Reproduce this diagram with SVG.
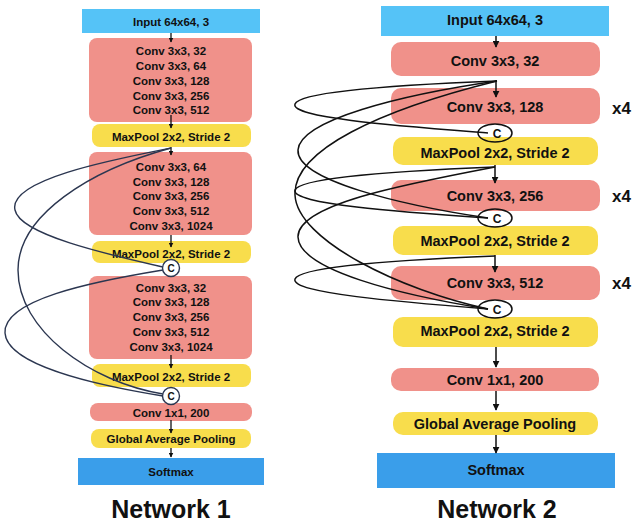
<svg xmlns="http://www.w3.org/2000/svg" width="635" height="524" viewBox="0 0 635 524">
<defs>
<marker id="ah" viewBox="0 0 10 10" refX="9" refY="5" markerWidth="5" markerHeight="5" orient="auto" markerUnits="userSpaceOnUse">
<path d="M0,0 L10,5 L0,10 z" fill="#111"/>
</marker>
<marker id="ah2" viewBox="0 0 10 10" refX="9" refY="5" markerWidth="7" markerHeight="7" orient="auto" markerUnits="userSpaceOnUse">
<path d="M0,0 L10,5 L0,10 z" fill="#111"/>
</marker>
<style>
text{font-family:"Liberation Sans",Arial,sans-serif;font-weight:bold;fill:#111;text-anchor:middle}
.s{font-size:11.5px}
.l{font-size:14.5px}
.t{font-size:25px}
.x4{font-size:17px;text-anchor:start}
.inp{fill:#55c3f7}
.sm{fill:#3a9eea}
.cv{fill:#f0918a}
.mp{fill:#f8dd4c}
.a{stroke:#111;stroke-width:1.3;fill:none;marker-end:url(#ah)}
.a2{stroke:#111;stroke-width:1.5;fill:none;marker-end:url(#ah2)}
.c1{stroke:#2b3650;stroke-width:1.4;fill:none}
.c2{stroke:#111;stroke-width:1.5;fill:none}
.cc{fill:#fff;stroke:#2b3650;stroke-width:1.4}
.ce{fill:none;stroke:#111;stroke-width:1.5}
</style>
</defs>

<!-- Network 1 -->
<g id="n1-input"><rect class="inp" x="82" y="9" width="178" height="24"/><text class="s" x="171" y="26">Input 64x64, 3</text></g>
<g id="n1-conv1"><rect class="cv" x="89" y="38" width="163" height="84" rx="8"/>
<text class="s" x="171" y="55">Conv 3x3, 32</text><text class="s" x="171" y="70">Conv 3x3, 64</text><text class="s" x="171" y="85">Conv 3x3, 128</text><text class="s" x="171" y="100">Conv 3x3, 256</text><text class="s" x="171" y="114">Conv 3x3, 512</text></g>
<g id="n1-pool1"><rect class="mp" x="92" y="124" width="159" height="23" rx="8"/><text class="s" x="171" y="141">MaxPool 2x2, Stride 2</text></g>
<g id="n1-conv2"><rect class="cv" x="89" y="152" width="163" height="83" rx="8"/>
<text class="s" x="171" y="171">Conv 3x3, 64</text><text class="s" x="171" y="186">Conv 3x3, 128</text><text class="s" x="171" y="200">Conv 3x3, 256</text><text class="s" x="171" y="215">Conv 3x3, 512</text><text class="s" x="171" y="230">Conv 3x3, 1024</text></g>
<g id="n1-pool2"><rect class="mp" x="92" y="241" width="159" height="22" rx="8"/><text class="s" x="171" y="258">MaxPool 2x2, Stride 2</text></g>
<g id="n1-conv3"><rect class="cv" x="89" y="276" width="163" height="83" rx="8"/>
<text class="s" x="171" y="292">Conv 3x3, 32</text><text class="s" x="171" y="306">Conv 3x3, 128</text><text class="s" x="171" y="321">Conv 3x3, 256</text><text class="s" x="171" y="336">Conv 3x3, 512</text><text class="s" x="171" y="351">Conv 3x3, 1024</text></g>
<g id="n1-pool3"><rect class="mp" x="92" y="364" width="159" height="23" rx="8"/><text class="s" x="171" y="381">MaxPool 2x2, Stride 2</text></g>
<g id="n1-conv1x1"><rect class="cv" x="90" y="403" width="162" height="18" rx="8"/><text class="s" x="171" y="417">Conv 1x1, 200</text></g>
<g id="n1-gap"><rect class="mp" x="91" y="429" width="160" height="19" rx="8"/><text class="s" x="171" y="443">Global Average Pooling</text></g>
<g id="n1-softmax"><rect class="sm" x="78" y="458" width="186" height="27"/><text class="s" x="171" y="476">Softmax</text></g>

<!-- Network 2 -->
<g id="n2-input"><rect class="inp" x="381" y="6" width="228" height="30"/><text class="l" x="495" y="25">Input 64x64, 3</text></g>
<g id="n2-conv32"><rect class="cv" x="391" y="42" width="209" height="34" rx="10"/><text class="l" x="495" y="66">Conv 3x3, 32</text></g>
<g id="n2-conv128"><rect class="cv" x="391" y="88" width="209" height="36" rx="10"/><text class="l" x="495" y="112">Conv 3x3, 128</text></g>
<g id="n2-pool1"><rect class="mp" x="393" y="137" width="205" height="28" rx="10"/><text class="l" x="495" y="158">MaxPool 2x2, Stride 2</text></g>
<g id="n2-conv256"><rect class="cv" x="391" y="180" width="209" height="31" rx="10"/><text class="l" x="495" y="201">Conv 3x3, 256</text></g>
<g id="n2-pool2"><rect class="mp" x="393" y="226" width="205" height="29" rx="10"/><text class="l" x="495" y="246">MaxPool 2x2, Stride 2</text></g>
<g id="n2-conv512"><rect class="cv" x="391" y="266" width="209" height="34" rx="10"/><text class="l" x="495" y="288">Conv 3x3, 512</text></g>
<g id="n2-pool3"><rect class="mp" x="393" y="317" width="205" height="30" rx="10"/><text class="l" x="495" y="336">MaxPool 2x2, Stride 2</text></g>
<g id="n2-conv1x1"><rect class="cv" x="391" y="368" width="208" height="23" rx="10"/><text class="l" x="495" y="385">Conv 1x1, 200</text></g>
<g id="n2-gap"><rect class="mp" x="393" y="412" width="205" height="23" rx="10"/><text class="l" x="495" y="429">Global Average Pooling</text></g>
<g id="n2-softmax"><rect class="sm" x="377" y="453" width="238" height="35"/><text class="l" x="496" y="475">Softmax</text></g>
<g id="n2-x4"><text class="x4" x="612" y="114">x4</text><text class="x4" x="612" y="202">x4</text><text class="x4" x="612" y="289">x4</text></g>

<!-- Connectors -->
<g id="connectors">
<path class="a" d="M171,33 V42"/>
<path class="a" d="M171,115 V128"/>
<path class="a" d="M171,147 V155"/>
<path class="a" d="M171,235 V247"/>
<path class="a" d="M171,355 V368"/>
<path class="a" d="M171,420 V433"/>
<path class="a" d="M171,448 V457"/>
<path class="c1" d="M171,148 C110,160 8,180 15,210 C20,235 110,255 163,267"/>
<path class="c1" d="M171,148 C90,170 18,215 18,270 C18,330 90,382 163,394"/>
<path class="c1" d="M163,270 C90,282 3,300 5,333 C7,365 95,385 163,396"/>

<path class="a2" d="M496,36 V47"/>
<path class="a2" d="M496,80 V97"/>
<path class="a2" d="M495,165 V183"/>
<path class="a2" d="M495,255 V272"/>
<path class="a2" d="M496,347 V367"/>
<path class="a2" d="M496,391 V410"/>
<path class="a2" d="M496,435 V453"/>
<path class="c2" d="M497,81 C420,84 300,90 295,104 C290,118 400,126 488,133"/>
<path class="c2" d="M495,167 C420,170 300,176 295,190 C290,204 400,212 488,218"/>
<path class="c2" d="M495,256 C420,259 300,265 295,279 C290,293 400,302 488,309"/>
<path class="c2" d="M497,81 C400,95 300,120 298,150 C296,180 400,205 488,218"/>
<path class="c2" d="M495,167 C400,185 297,205 298,237 C299,270 400,295 488,309"/>
<path class="c2" d="M497,81 C380,110 293,150 295,195 C297,240 400,290 488,309"/>
</g>

<g id="n1-concat1"><circle class="cc" cx="171" cy="268" r="8.5"/><text x="171" y="272" style="font-size:10px">C</text></g>
<g id="n1-concat2"><circle class="cc" cx="171" cy="396" r="8.5"/><text x="171" y="400" style="font-size:10px">C</text></g>
<g id="n2-concat1"><ellipse class="ce" cx="495" cy="133" rx="17" ry="9"/><text x="497" y="138" style="font-size:12px">C</text></g>
<g id="n2-concat2"><ellipse class="ce" cx="495" cy="218" rx="17" ry="9"/><text x="497" y="223" style="font-size:12px">C</text></g>
<g id="n2-concat3"><ellipse class="ce" cx="495" cy="309" rx="17" ry="9"/><text x="497" y="314" style="font-size:12px">C</text></g>

<text class="t" x="171" y="518">Network 1</text>
<text class="t" x="497" y="518">Network 2</text>
</svg>
